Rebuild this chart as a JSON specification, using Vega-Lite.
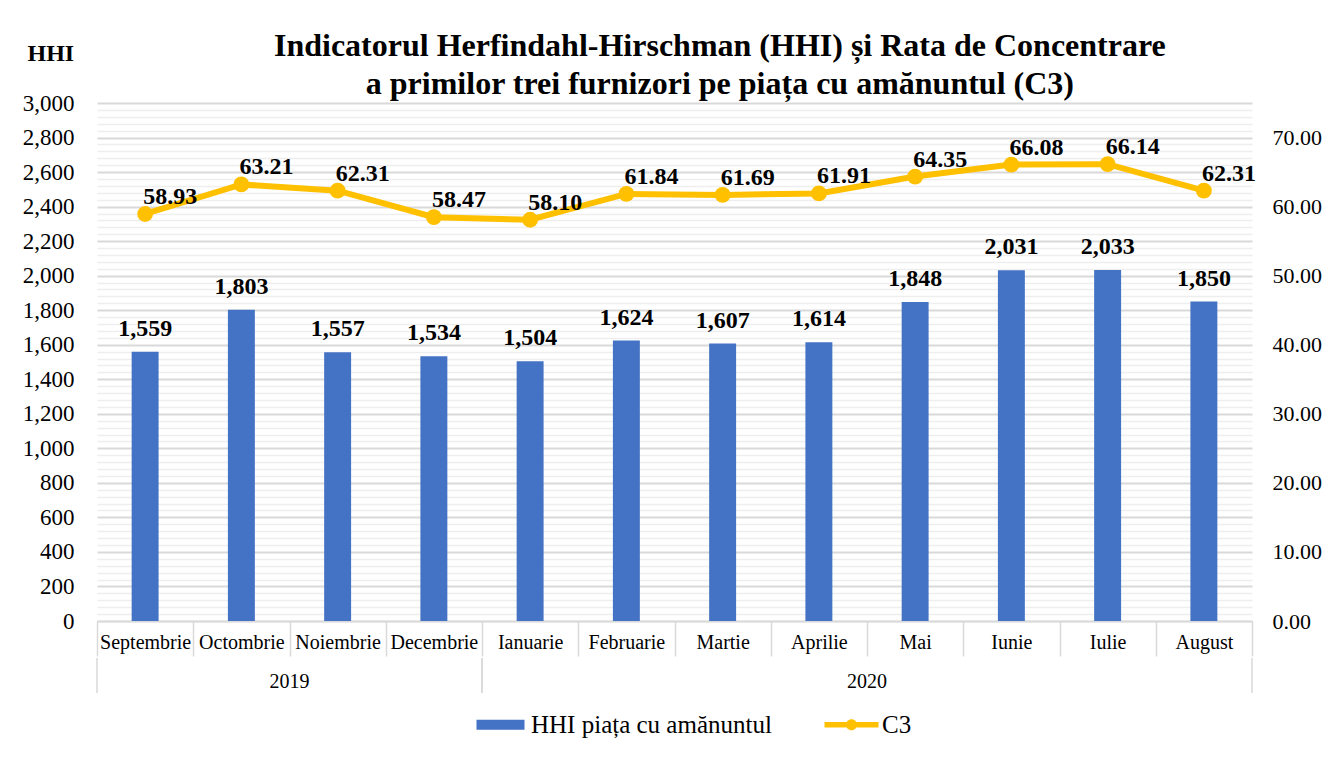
{
  "$schema": "https://vega.github.io/schema/vega-lite/v6.json",
  "padding": {"left": 22, "top": 30, "right": 5, "bottom": 5},
  "background": "white",
  "config": {"view": {"stroke": null}, "font": "Liberation Serif", "legend": {"labelFont": "Liberation Serif", "labelFontSize": 25, "labelColor": "#000000"}},
  "title": {
    "text": ["Indicatorul Herfindahl-Hirschman (HHI) și Rata de Concentrare", "a primilor trei furnizori pe piața cu amănuntul (C3)"],
    "font": "Liberation Serif",
    "fontSize": 32,
    "fontWeight": "bold",
    "lineHeight": 38,
    "color": "#000000",
    "anchor": "middle",
    "offset": 0,
    "dx": 48,
    "dy": 60
  },
  "datasets": {
    "luni": [
      {"luna": "Septembrie", "an": "2019", "HHI": 1559, "C3": 58.93},
      {"luna": "Octombrie", "an": "2019", "HHI": 1803, "C3": 63.21},
      {"luna": "Noiembrie", "an": "2019", "HHI": 1557, "C3": 62.31},
      {"luna": "Decembrie", "an": "2019", "HHI": 1534, "C3": 58.47},
      {"luna": "Ianuarie", "an": "2020", "HHI": 1504, "C3": 58.10},
      {"luna": "Februarie", "an": "2020", "HHI": 1624, "C3": 61.84},
      {"luna": "Martie", "an": "2020", "HHI": 1607, "C3": 61.69},
      {"luna": "Aprilie", "an": "2020", "HHI": 1614, "C3": 61.91},
      {"luna": "Mai", "an": "2020", "HHI": 1848, "C3": 64.35},
      {"luna": "Iunie", "an": "2020", "HHI": 2031, "C3": 66.08},
      {"luna": "Iulie", "an": "2020", "HHI": 2033, "C3": 66.14},
      {"luna": "August", "an": "2020", "HHI": 1850, "C3": 62.31}
    ],
    "ani": [
      {"an": "2019", "prima": "Septembrie", "mijloc": "Octombrie", "ultima": "Decembrie"},
      {"an": "2020", "prima": "Ianuarie", "mijloc": "Aprilie", "ultima": "August"}
    ],
    "serii": [
      {"serie": "HHI piața cu amănuntul"},
      {"serie": "C3"}
    ]
  },
  "spacing": 0,
  "vconcat": [
    {
      "width": 1155,
      "height": 518,
      "data": {"name": "luni"},
      "layer": [
        {
          "encoding": {
            "x": {
              "field": "luna", "type": "nominal", "sort": null,
              "scale": {"domain": ["Septembrie","Octombrie","Noiembrie","Decembrie","Ianuarie","Februarie","Martie","Aprilie","Mai","Iunie","Iulie","August"], "paddingInner": 0, "paddingOuter": 0},
              "axis": {"title": null, "labelAngle": 0, "labelFont": "Liberation Serif", "labelFontSize": 20, "labelColor": "#000000", "labelPadding": -24, "labelBaseline": "top", "domainColor": "#d9d9d9", "domainWidth": 1.5, "tickBand": "extent", "tickSize": 35, "tickColor": "#d9d9d9", "tickWidth": 1.5, "grid": false}
            },
            "y": {
              "field": "HHI", "type": "quantitative",
              "scale": {"domain": [0, 3000], "nice": false},
              "axis": {
                "title": "HHI", "titleFont": "Liberation Serif", "titleFontSize": 24, "titleFontWeight": "bold", "titleColor": "#000000",
                "titleAngle": 0, "titleAlign": "left", "titleBaseline": "middle", "titleX": -70, "titleY": -50,
                "values": [0,40,80,120,160,200,240,280,320,360,400,440,480,520,560,600,640,680,720,760,800,840,880,920,960,1000,1040,1080,1120,1160,1200,1240,1280,1320,1360,1400,1440,1480,1520,1560,1600,1640,1680,1720,1760,1800,1840,1880,1920,1960,2000,2040,2080,2120,2160,2200,2240,2280,2320,2360,2400,2440,2480,2520,2560,2600,2640,2680,2720,2760,2800,2840,2880,2920,2960,3000],
                "labelExpr": "datum.value % 200 === 0 ? format(datum.value, ',') : ''",
                "labelOverlap": false, "labelFont": "Liberation Serif", "labelFontSize": 23, "labelColor": "#000000", "labelPadding": 23,
                "domain": false, "ticks": false,
                "grid": true,
                "gridColor": {"condition": {"test": "datum.value % 200 === 0", "value": "#d9d9d9"}, "value": "#eeeeee"},
                "gridWidth": {"condition": {"test": "datum.value % 200 === 0", "value": 2}, "value": 1.5}
              }
            }
          },
          "layer": [
            {"mark": {"type": "bar", "color": "#4472C4", "width": {"band": 0.28}}},
            {
              "mark": {"type": "text", "font": "Liberation Serif", "fontSize": 24, "fontWeight": "bold", "color": "#000000", "baseline": "middle", "dy": -23},
              "encoding": {"text": {"field": "HHI", "type": "quantitative", "format": ","}}
            }
          ]
        },
        {
          "encoding": {
            "x": {
              "field": "luna", "type": "nominal", "sort": null,
              "scale": {"domain": ["Septembrie","Octombrie","Noiembrie","Decembrie","Ianuarie","Februarie","Martie","Aprilie","Mai","Iunie","Iulie","August"], "paddingInner": 0, "paddingOuter": 0},
              "axis": {"title": null, "labelAngle": 0, "labelFont": "Liberation Serif", "labelFontSize": 20, "labelColor": "#000000", "labelPadding": -24, "labelBaseline": "top", "domainColor": "#d9d9d9", "domainWidth": 1.5, "tickBand": "extent", "tickSize": 35, "tickColor": "#d9d9d9", "tickWidth": 1.5, "grid": false}
            },
            "y": {
              "field": "C3", "type": "quantitative",
              "scale": {"domain": [0, 75], "nice": false},
              "axis": {"orient": "right", "title": null, "values": [0,10,20,30,40,50,60,70], "format": ".2f", "labelOverlap": false, "labelFont": "Liberation Serif", "labelFontSize": 22, "labelColor": "#000000", "labelPadding": 20, "domain": false, "ticks": false, "grid": false}
            }
          },
          "layer": [
            {"mark": {"type": "line", "color": "#FFC000", "strokeWidth": 6, "point": {"filled": true, "size": 250, "color": "#FFC000", "opacity": 1}}},
            {
              "mark": {"type": "text", "font": "Liberation Serif", "fontSize": 24, "fontWeight": "bold", "color": "#000000", "align": "left", "baseline": "middle", "dx": -2, "dy": -17},
              "encoding": {"text": {"field": "C3", "type": "quantitative", "format": ".2f"}}
            }
          ]
        },
        {
          "data": {"name": "serii"},
          "mark": {"type": "point", "filled": true, "opacity": 0},
          "encoding": {
            "color": {
              "field": "serie", "type": "nominal",
              "scale": {"domain": ["HHI piața cu amănuntul", "C3"], "range": ["#4472C4", "#FFC000"]},
              "legend": {"orient": "none", "legendX": 391, "legendY": 609, "direction": "horizontal", "title": null, "labelFont": "Liberation Serif", "labelFontSize": 25, "labelLimit": 500, "labelColor": "#000000", "symbolSize": 400, "symbolOpacity": 1, "symbolStrokeWidth": 0, "labelOffset": 18, "columnPadding": 52}
            },
            "shape": {
              "field": "serie", "type": "nominal",
              "scale": {"domain": ["HHI piața cu amănuntul", "C3"], "range": ["M-2.4,-0.5H2.4V0.5H-2.4Z", "M-2.7,-0.27H2.7V0.27H-2.7Z M-0.55,0A0.55,0.55 0 1,1 0.55,0A0.55,0.55 0 1,1 -0.55,0Z"]},
              "legend": {"orient": "none", "legendX": 391, "legendY": 609, "direction": "horizontal", "title": null, "labelFont": "Liberation Serif", "labelFontSize": 25, "labelLimit": 500, "labelColor": "#000000", "symbolSize": 400, "symbolOpacity": 1, "symbolStrokeWidth": 0, "labelOffset": 18, "columnPadding": 52}
            }
          }
        }
      ],
      "resolve": {"scale": {"y": "independent"}}
    },
    {
      "width": 1155,
      "height": 35,
      "data": {"name": "ani"},
      "layer": [
        {
          "mark": {"type": "rule", "color": "#d9d9d9", "strokeWidth": 1.5},
          "encoding": {
            "x": {"field": "prima", "type": "nominal", "bandPosition": 0, "scale": {"domain": ["Septembrie","Octombrie","Noiembrie","Decembrie","Ianuarie","Februarie","Martie","Aprilie","Mai","Iunie","Iulie","August"], "paddingInner": 0, "paddingOuter": 0}, "axis": null}
          }
        },
        {
          "mark": {"type": "rule", "color": "#d9d9d9", "strokeWidth": 1.5},
          "encoding": {
            "x": {"field": "ultima", "type": "nominal", "bandPosition": 1, "axis": null}
          }
        },
        {
          "mark": {"type": "text", "font": "Liberation Serif", "fontSize": 20, "color": "#000000", "baseline": "middle", "dy": 6},
          "encoding": {
            "x": {"field": "mijloc", "type": "nominal", "bandPosition": 1, "axis": null},
            "text": {"field": "an", "type": "nominal"}
          }
        }
      ]
    }
  ]
}
